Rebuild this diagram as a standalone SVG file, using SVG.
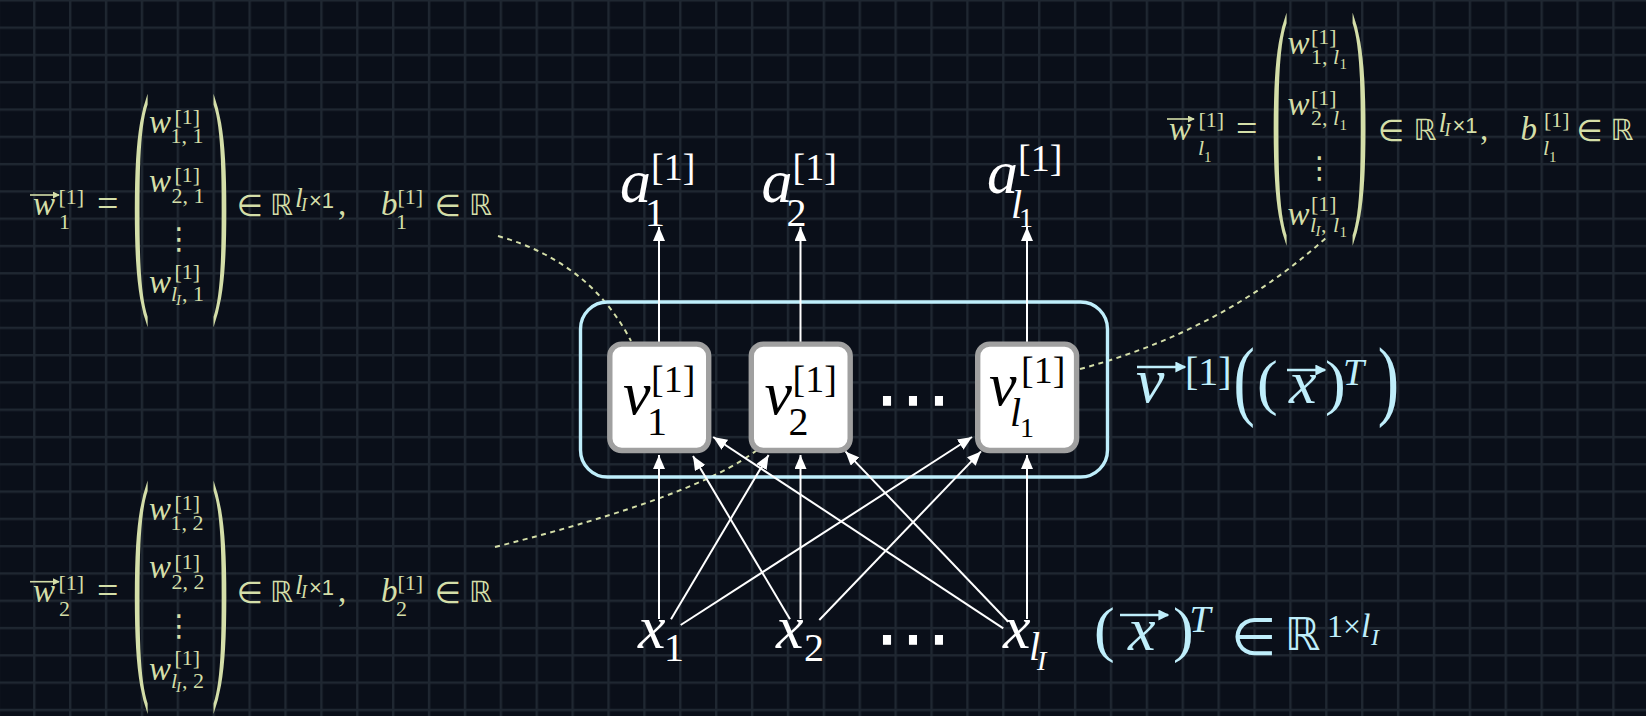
<svg xmlns="http://www.w3.org/2000/svg" width="1646" height="716" viewBox="0 0 1646 716">
<style>
.it{font-family:"Liberation Serif","DejaVu Serif",serif;font-style:italic}
.up{font-family:"Liberation Serif","DejaVu Serif",serif}
.ss{font-family:"Liberation Sans","DejaVu Sans",sans-serif}
.sym{font-family:"DejaVu Sans","Liberation Sans",sans-serif}
.Y{fill:#d4dea8}
.C{fill:#bfeefb}
.W{fill:#ffffff}
.K{fill:#000000}
.edge{stroke:#ffffff;stroke-width:2;fill:none;marker-end:url(#ah)}
.dash{stroke:#d4dea8;stroke-width:2;fill:none;stroke-dasharray:5 4.5}
.vy{stroke:#d4dea8;stroke-width:1.6;marker-end:url(#hy)}
.vc{stroke:#bfeefb;stroke-width:2.4;marker-end:url(#hc)}
.node{fill:#ffffff;stroke:#a0a0a0;stroke-width:5.4}
</style>
<defs>
<pattern id="grid" patternUnits="userSpaceOnUse" x="-2.79" y="-0.79" width="35.89" height="27.29">
<rect x="0" y="0" width="2.4" height="27.29" fill="#1f2731"/>
<rect x="0" y="0" width="35.89" height="2.4" fill="#1f2731"/>
</pattern>
<marker id="ah" viewBox="0 0 14 12" refX="14" refY="6" markerWidth="14" markerHeight="12" markerUnits="userSpaceOnUse" orient="auto"><path d="M0,0 L14,6 L0,12 z" fill="#ffffff"/></marker>
<marker id="hy" viewBox="0 0 8 8" refX="7" refY="4" markerWidth="7" markerHeight="7" markerUnits="userSpaceOnUse" orient="auto"><path d="M0,0 L8,4 L0,8 z" fill="#d4dea8"/></marker>
<marker id="hc" viewBox="0 0 8 8" refX="7" refY="4" markerWidth="11" markerHeight="11" markerUnits="userSpaceOnUse" orient="auto"><path d="M0,0 L8,4 L0,8 z" fill="#bfeefb"/></marker>
</defs>
<rect x="0" y="0" width="1646" height="716" fill="#0a0f19"/>
<rect x="0" y="0" width="1646" height="716" fill="url(#grid)"/>

<g id="connectors">
<path class="dash" d="M498,236 Q590,262 631,341"/>
<path class="dash" d="M1080,369 Q1225,330 1328,236"/>
<path class="dash" d="M495,547 Q698,496 757,450"/>
<rect id="layer-box" x="580.5" y="302" width="527" height="175" rx="27" fill="none" stroke="#bfeefb" stroke-width="3.4"/>
<line class="edge" x1="659" y1="342" x2="659" y2="227"/>
<line class="edge" x1="800.5" y1="342" x2="800.5" y2="227"/>
<line class="edge" x1="1027" y1="342" x2="1027" y2="227"/>
<line class="edge" x1="659" y1="619" x2="659" y2="455"/>
<line class="edge" x1="671" y1="619.3" x2="768.6" y2="455"/>
<line class="edge" x1="680.7" y1="625" x2="972" y2="437"/>
<line class="edge" x1="790" y1="619.3" x2="693" y2="456"/>
<line class="edge" x1="800.5" y1="619" x2="800.5" y2="455"/>
<line class="edge" x1="819.3" y1="620" x2="981" y2="451.4"/>
<line class="edge" x1="1003.3" y1="628.3" x2="713.2" y2="437"/>
<line class="edge" x1="1008.3" y1="621.7" x2="845.4" y2="451.4"/>
<line class="edge" x1="1027" y1="619" x2="1027" y2="455"/>
</g>

<g id="node-nu1">
<rect class="node" x="609.8" y="344.1" width="98.9" height="106.4" rx="12"/>
<text class="it K" x="623" y="414" font-size="62">ν</text>
<text class="up K" x="647" y="435.4" font-size="40">1</text>
<text class="up K" x="651" y="392" font-size="38">[1]</text>
</g>
<g id="node-nu2">
<rect class="node" x="751.3" y="344.1" width="98.9" height="106.4" rx="12"/>
<text class="it K" x="764.5" y="414" font-size="62">ν</text>
<text class="up K" x="788.5" y="435.4" font-size="40">2</text>
<text class="up K" x="792.5" y="392" font-size="38">[1]</text>
</g>
<g id="node-dots">
<text class="sym W" x="913" y="425" font-size="78" text-anchor="middle">⋯</text>
</g>
<g id="node-nul1">
<rect class="node" x="977.7" y="344.1" width="98.9" height="106.4" rx="12"/>
<text class="it K" x="989" y="405" font-size="62">ν</text>
<text class="up K" x="1021" y="383" font-size="38">[1]</text>
<text class="it K" x="1010" y="426" font-size="40">l</text>
<text class="up K" x="1020" y="437" font-size="28">1</text>
</g>

<g id="out-a1" class="W">
<text class="it" x="620" y="202" font-size="62">a</text>
<text class="up" x="645" y="226" font-size="40">1</text>
<text class="up" x="651" y="180" font-size="38">[1]</text>
</g>
<g id="out-a2" class="W">
<text class="it" x="761.5" y="202" font-size="62">a</text>
<text class="up" x="786.5" y="226" font-size="40">2</text>
<text class="up" x="792.5" y="180" font-size="38">[1]</text>
</g>
<g id="out-al1" class="W">
<text class="it" x="987" y="193" font-size="62">a</text>
<text class="up" x="1018" y="171" font-size="38">[1]</text>
<text class="it" x="1011" y="218" font-size="40">l</text>
<text class="up" x="1019" y="227" font-size="28">1</text>
</g>

<g id="in-x1" class="W">
<text class="it" x="638" y="648" font-size="62">x</text>
<text class="up" x="664" y="661" font-size="40">1</text>
</g>
<g id="in-x2" class="W">
<text class="it" x="776" y="648" font-size="62">x</text>
<text class="up" x="804" y="661" font-size="40">2</text>
</g>
<g id="in-dots">
<text class="sym W" x="913" y="664" font-size="78" text-anchor="middle">⋯</text>
</g>
<g id="in-xlI" class="W">
<text class="it" x="1003" y="648" font-size="62">x</text>
<text class="it" x="1029" y="660" font-size="40">l</text>
<text class="it" x="1037" y="670" font-size="28">I</text>
</g>

<g id="label-layer" class="C">
<text class="it" x="1136" y="402" font-size="64">ν</text>
<line class="vc" x1="1137" y1="367" x2="1185" y2="367"/>
<text class="up" x="1185" y="385" font-size="40">[1]</text>
<text class="up" font-size="64" transform="translate(1233.6,408.9) scale(1,1.4)">(</text>
<text class="up" x="1257" y="403" font-size="62">(</text>
<text class="it" x="1289" y="403" font-size="62">x</text>
<line class="vc" x1="1287" y1="370" x2="1325" y2="370"/>
<text class="up" x="1325" y="403" font-size="62">)</text>
<text class="it" x="1343" y="385" font-size="38">T</text>
<text class="up" font-size="64" transform="translate(1377.7,408.9) scale(1,1.4)">)</text>
</g>

<g id="label-input" class="C">
<text class="up" x="1094" y="650" font-size="62">(</text>
<text class="it" x="1128" y="650" font-size="62">x</text>
<line class="vc" x1="1120" y1="615" x2="1168" y2="615"/>
<text class="up" x="1173" y="650" font-size="62">)</text>
<text class="it" x="1189.5" y="631.7" font-size="38">T</text>
<text class="sym" x="1231" y="655" font-size="52">∈</text>
<text class="sym" x="1285" y="650" font-size="45">ℝ</text>
<text class="up" x="1327" y="637" font-size="32">1×</text>
<text class="it" x="1361" y="637" font-size="34">l</text>
<text class="it" x="1371" y="645" font-size="24">I</text>
</g>

<g id="weights-1" class="Y">
<text class="it" x="33" y="215" font-size="33">w</text>
<line class="vy" x1="30" y1="195" x2="59" y2="195"/>
<text class="up" x="58.5" y="203.5" font-size="22">[1]</text>
<text class="up" x="59" y="229.3" font-size="22">1</text>
<text class="up" x="97" y="216" font-size="38">=</text>
<text class="up" font-size="50" transform="translate(132.6,272.5) scale(1,5.15)">(</text>
<text class="up" font-size="50" transform="translate(211.9,272.5) scale(1,5.15)">)</text>
<text class="it" x="149" y="133.3" font-size="33">w</text>
<text class="up" x="174.5" y="123.5" font-size="22">[1]</text>
<text class="up" x="170.5" y="143.3" font-size="22">1, 1</text>
<text class="it" x="149" y="191.7" font-size="33">w</text>
<text class="up" x="174.5" y="181.9" font-size="22">[1]</text>
<text class="up" x="171.5" y="202.7" font-size="22">2, 1</text>
<text class="sym" x="179" y="249" font-size="30" text-anchor="middle">⋮</text>
<text class="it" x="149" y="293.3" font-size="33">w</text>
<text class="up" x="174.5" y="278.5" font-size="22">[1]</text>
<text class="it" x="171" y="301" font-size="22">l</text>
<text class="it" x="176" y="305" font-size="15">I</text>
<text class="up" x="182" y="301" font-size="22">, 1</text>
<text class="sym" x="236.5" y="216" font-size="30">∈</text>
<text class="sym" x="270" y="215" font-size="29">ℝ</text>
<text class="it" x="295" y="207" font-size="28">l</text>
<text class="it" x="301" y="211" font-size="18">I</text>
<text class="ss" x="309" y="208" font-size="22">×1</text>
<text class="up" x="338" y="215" font-size="33">,</text>
<text class="it" x="381" y="215" font-size="33">b</text>
<text class="up" x="397.5" y="203.5" font-size="22">[1]</text>
<text class="up" x="396" y="229.3" font-size="22">1</text>
<text class="sym" x="434.5" y="216" font-size="30">∈</text>
<text class="sym" x="469" y="215" font-size="29">ℝ</text>
</g>

<g id="weights-2" class="Y" transform="translate(0,386.7)">
<text class="it" x="33" y="215" font-size="33">w</text>
<line class="vy" x1="30" y1="195" x2="59" y2="195"/>
<text class="up" x="58.5" y="203.5" font-size="22">[1]</text>
<text class="up" x="59" y="229.3" font-size="22">2</text>
<text class="up" x="97" y="216" font-size="38">=</text>
<text class="up" font-size="50" transform="translate(132.6,272.5) scale(1,5.15)">(</text>
<text class="up" font-size="50" transform="translate(211.9,272.5) scale(1,5.15)">)</text>
<text class="it" x="149" y="133.3" font-size="33">w</text>
<text class="up" x="174.5" y="123.5" font-size="22">[1]</text>
<text class="up" x="170.5" y="143.3" font-size="22">1, 2</text>
<text class="it" x="149" y="191.7" font-size="33">w</text>
<text class="up" x="174.5" y="181.9" font-size="22">[1]</text>
<text class="up" x="171.5" y="202.7" font-size="22">2, 2</text>
<text class="sym" x="179" y="249" font-size="30" text-anchor="middle">⋮</text>
<text class="it" x="149" y="293.3" font-size="33">w</text>
<text class="up" x="174.5" y="278.5" font-size="22">[1]</text>
<text class="it" x="171" y="301" font-size="22">l</text>
<text class="it" x="176" y="305" font-size="15">I</text>
<text class="up" x="182" y="301" font-size="22">, 2</text>
<text class="sym" x="236.5" y="216" font-size="30">∈</text>
<text class="sym" x="270" y="215" font-size="29">ℝ</text>
<text class="it" x="295" y="207" font-size="28">l</text>
<text class="it" x="301" y="211" font-size="18">I</text>
<text class="ss" x="309" y="208" font-size="22">×1</text>
<text class="up" x="338" y="215" font-size="33">,</text>
<text class="it" x="381" y="215" font-size="33">b</text>
<text class="up" x="397.5" y="203.5" font-size="22">[1]</text>
<text class="up" x="396" y="229.3" font-size="22">2</text>
<text class="sym" x="434.5" y="216" font-size="30">∈</text>
<text class="sym" x="469" y="215" font-size="29">ℝ</text>
</g>

<g id="weights-l1" class="Y">
<text class="it" x="1169" y="140" font-size="33">w</text>
<line class="vy" x1="1167" y1="119" x2="1194" y2="119"/>
<text class="up" x="1198.5" y="127.3" font-size="22">[1]</text>
<text class="it" x="1198" y="155" font-size="22">l</text>
<text class="up" x="1204" y="162" font-size="15">1</text>
<text class="up" x="1236" y="141" font-size="38">=</text>
<text class="up" font-size="50" transform="translate(1271.6,191) scale(1,5.12)">(</text>
<text class="up" font-size="50" transform="translate(1351,191) scale(1,5.12)">)</text>
<text class="it" x="1287.5" y="54" font-size="33">w</text>
<text class="up" x="1311" y="43.5" font-size="22">[1]</text>
<text class="up" x="1311" y="64.4" font-size="22">1,</text>
<text class="it" x="1333" y="64.4" font-size="22">l</text>
<text class="up" x="1339.5" y="69" font-size="15">1</text>
<text class="it" x="1287.5" y="115" font-size="33">w</text>
<text class="up" x="1311" y="104.5" font-size="22">[1]</text>
<text class="up" x="1311" y="125.3" font-size="22">2,</text>
<text class="it" x="1333" y="125.3" font-size="22">l</text>
<text class="up" x="1339.5" y="130" font-size="15">1</text>
<text class="sym" x="1319.4" y="178" font-size="30" text-anchor="middle">⋮</text>
<text class="it" x="1287.5" y="224.6" font-size="33">w</text>
<text class="up" x="1311" y="211" font-size="22">[1]</text>
<text class="it" x="1310" y="232" font-size="22">l</text>
<text class="it" x="1315.5" y="236" font-size="15">I</text>
<text class="up" x="1321" y="232" font-size="22">,</text>
<text class="it" x="1333" y="232" font-size="22">l</text>
<text class="up" x="1339.5" y="236.5" font-size="15">1</text>
<text class="sym" x="1377.8" y="141" font-size="30">∈</text>
<text class="sym" x="1413.5" y="140" font-size="29">ℝ</text>
<text class="it" x="1438.5" y="132" font-size="28">l</text>
<text class="it" x="1444.5" y="136" font-size="18">I</text>
<text class="ss" x="1452.5" y="133" font-size="22">×1</text>
<text class="up" x="1480" y="140" font-size="33">,</text>
<text class="it" x="1520.5" y="140" font-size="33">b</text>
<text class="up" x="1544" y="127.3" font-size="22">[1]</text>
<text class="it" x="1543" y="155" font-size="22">l</text>
<text class="up" x="1549" y="162" font-size="15">1</text>
<text class="sym" x="1576.3" y="141" font-size="30">∈</text>
<text class="sym" x="1610.5" y="140" font-size="29">ℝ</text>
</g>
</svg>
